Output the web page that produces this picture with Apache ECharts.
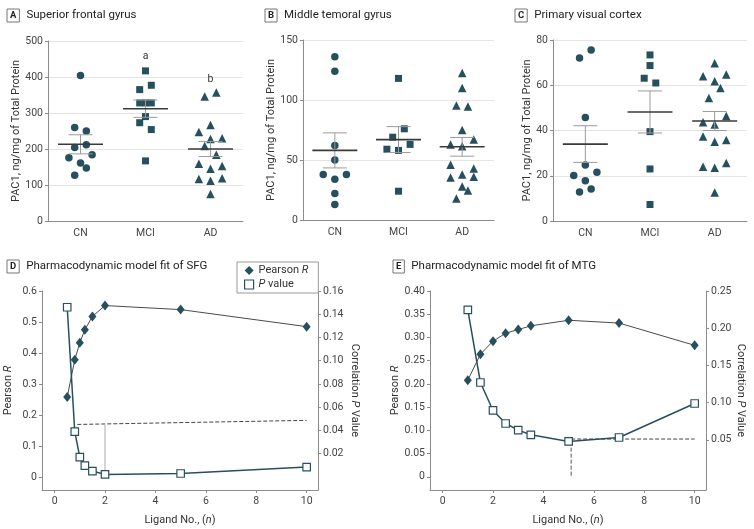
<!DOCTYPE html>
<html>
<head>
<meta charset="utf-8">
<script src="https://cdn.jsdelivr.net/npm/echarts@6/dist/echarts.min.js"></script>
<style>
  html, body { margin: 0; padding: 0; background: #fff; }
  #main { width: 754px; height: 529px; }
</style>
</head>
<body>
<div id="main"></div>
<script>
// groups on the x axis of panels A-C
const groups = ['CN', 'MCI', 'AD'];

// A: Superior frontal gyrus (PAC1, ng/mg)
const sfgCN = [404, 260, 250, 204, 212, 176, 184, 161, 147, 127];
const sfgMCI = [417, 365, 377, 328, 328, 328, 290, 273, 254, 167];
const sfgAD = [346, 357, 267, 247, 228, 230, 208, 184, 159, 145, 153, 117, 112, 119, 75];
const sfgMean = [213, 312, 200];
const sfgSem = [26.5, 24, 21];
const sfgLetters = ['', 'a', 'b'];
const sfgLetterAt = [null, 457, 393];

// B: Middle temporal gyrus
const mtgCN = [136, 124, 62, 50, 38, 38, 34, 22, 13];
const mtgMCI = [118, 76, 69, 63, 59, 58, 24];
const mtgAD = [122.5, 110, 95.5, 94.5, 75, 67, 63, 61.5, 46, 43, 35.5, 38, 36, 28, 24.5, 18];
const mtgMean = [58, 67, 61];
const mtgSem = [14.6, 10.8, 7.8];

// C: Primary visual cortex
const pvcCN = [75.6, 72, 45.8, 24.7, 20.1, 21.6, 17.8, 12.8, 14.1];
const pvcMCI = [73.4, 68.7, 63.1, 61, 39.5, 23, 7.3];
const pvcAD = [69.7, 64, 64.7, 61.8, 58.8, 54.4, 46.4, 43.6, 42.7, 37.4, 35.8, 35, 24, 23.5, 25.6, 12.6];
const pvcMean = [34, 48.2, 44.2];
const pvcSem = [8.1, 9.3, 4.2];

// swarm column of every dot (-2..2)
const sfgCNcol = [0, -1, 1, -1, 1, -2, 2, 0, 1, -1];
const sfgMCIcol = [0, -1, 1, -1, 0, 1, 0, -1, 1, 0];
const sfgADcol = [-1, 1, 0, -2, 0, 2, -1, 1, -2, 0, 2, -2, 0, 2, 0];
const mtgCNcol = [0, 0, 0, 0, -2, 2, 0, 0, 0];
const mtgMCIcol = [0, 1, -1, 2, -2, 0, 0];
const mtgADcol = [0, 0, -1, 1, 0, 2, -2, 0, -2, 2, -2, 0, 2, 0, 1, -1];
const pvcCNcol = [1, -1, 0, 0, -2, 2, 0, -1, 1];
const pvcMCIcol = [0, 0, -1, 1, 0, 0, 0];
const pvcADcol = [0, -2, 2, 0, 1, -1, 2, -2, 0, -2, 2, 0, -2, 0, 2, 0];

// D: pharmacodynamic model fit of SFG
const sfgLigand = [0.5, 0.8, 1, 1.2, 1.5, 2, 5, 10];
const sfgR = [0.258, 0.378, 0.433, 0.475, 0.518, 0.553, 0.540, 0.485];
const sfgP = [0.146, 0.039, 0.017, 0.0097, 0.0051, 0.0022, 0.003, 0.0085];
const sfgCutoff = [[0.9, 0.0452], [10, 0.0487]];
const sfgDrop = [[2, 0.0447], [2, 0.0045]];

// E: pharmacodynamic model fit of MTG
const mtgLigand = [1, 1.5, 2, 2.5, 3, 3.5, 5, 7, 10];
const mtgR = [0.208, 0.264, 0.292, 0.309, 0.317, 0.325, 0.337, 0.331, 0.283];
const mtgP = [0.2245, 0.127, 0.0894, 0.0719, 0.063, 0.0567, 0.0478, 0.0531, 0.0988];
const mtgCutoff = [[5.1, 0.051], [10, 0.051]];
const mtgDrop = [[5.1, 0.0475], [5.1, 0]];

// tick labels
const ligandTicks = [0, 2, 4, 6, 8, 10];
const sfgRTicks = [0, 0.1, 0.2, 0.3, 0.4, 0.5, 0.6];
const sfgPTicks = [0.02, 0.04, 0.06, 0.08, 0.10, 0.12, 0.14, 0.16];
const mtgRTicks = [0, 0.05, 0.10, 0.15, 0.20, 0.25, 0.30, 0.35, 0.40];
const mtgPTicks = [0.05, 0.10, 0.15, 0.20, 0.25];

const ink = '#27505f';
const gray = '#8c8c8c';
const font = 'Roboto, "Liberation Sans", sans-serif';
const colStep = 5.8;

const chart = echarts.init(document.getElementById('main'));

const grids = [
  {left: 48, top: 41, width: 195, height: 180},
  {left: 303, top: 40, width: 191, height: 180},
  {left: 553, top: 40, width: 194, height: 181},
  {left: 42, top: 291, width: 276, height: 199},
  {left: 430, top: 291, width: 276, height: 199}
];

const labelStyle = {color: '#444', fontSize: 10.5, fontFamily: font};
const nameRich = {
  t: {fontSize: 11, fontFamily: font, color: '#333', lineHeight: 12},
  i: {fontSize: 11, fontFamily: font, color: '#333', fontStyle: 'italic', lineHeight: 12}
};

function catAxis(gi) {
  return {
    type: 'category', gridIndex: gi, data: groups,
    axisLine: {onZero: false, lineStyle: {color: gray}},
    axisTick: {show: false},
    axisLabel: Object.assign({margin: 7}, labelStyle),
    splitLine: {show: false}
  };
}

function pacAxis(gi, max, step, gap) {
  return {
    type: 'value', gridIndex: gi, min: 0, max: max, interval: step,
    name: 'PAC1, ng/mg of Total Protein', nameLocation: 'middle', nameGap: gap, nameRotate: 90,
    nameTextStyle: {fontSize: 11, fontFamily: font, color: '#333'},
    axisLine: {show: true, onZero: false, lineStyle: {color: gray}},
    axisTick: {show: true, length: 3, lineStyle: {color: gray}},
    axisLabel: Object.assign({margin: 5}, labelStyle),
    splitLine: {lineStyle: {color: '#e4e4e4'}}
  };
}

function ligandAxis(gi) {
  return {
    type: 'value', gridIndex: gi, min: -0.5, max: 10.45,
    name: '{t|Ligand No., (}{i|n}{t|)}', nameLocation: 'middle', nameGap: 24,
    nameTextStyle: {rich: nameRich},
    axisLine: {onZero: false, lineStyle: {color: gray}},
    axisTick: {show: true, length: 3, customValues: ligandTicks, lineStyle: {color: gray}},
    axisLabel: Object.assign({margin: 6, customValues: ligandTicks}, labelStyle),
    splitLine: {show: false}
  };
}

function fitAxis(gi, side, min, max, ticks, digits, name, gap) {
  return {
    type: 'value', gridIndex: gi, position: side, min: min, max: max,
    name: name, nameLocation: 'middle', nameGap: gap, nameRotate: side === 'left' ? 90 : -90,
    nameTextStyle: {rich: nameRich},
    axisLine: {show: true, onZero: false, lineStyle: {color: gray}},
    axisTick: {show: true, length: 3, customValues: ticks, lineStyle: {color: gray}},
    axisLabel: Object.assign({
      margin: 5, customValues: ticks,
      formatter: v => (v === 0 ? '0' : v.toFixed(digits))
    }, labelStyle),
    splitLine: {show: false}
  };
}

function dots(gi, gIdx, values, cols, symbol, size) {
  return {
    type: 'scatter', xAxisIndex: gi, yAxisIndex: gi, symbol: symbol, symbolSize: size,
    itemStyle: {color: ink, opacity: 1},
    data: values.map((v, k) => ({value: [gIdx, v], symbolOffset: [cols[k] * colStep, 0]})),
    z: 3
  };
}

function meanSem(gi, mean, sem) {
  return {
    type: 'custom', xAxisIndex: gi, yAxisIndex: gi, z: 4, silent: true,
    data: mean.map((m, i) => [i, m, sem[i]]),
    renderItem: (params, api) => {
      const c = api.coord([api.value(0), api.value(1)]);
      const hi = api.coord([api.value(0), api.value(1) + api.value(2)]);
      const lo = api.coord([api.value(0), api.value(1) - api.value(2)]);
      const thin = {stroke: '#9b9b9b', lineWidth: 1};
      return {type: 'group', children: [
        {type: 'line', shape: {x1: c[0], y1: hi[1], x2: c[0], y2: lo[1]}, style: thin},
        {type: 'line', shape: {x1: c[0] - 12, y1: hi[1], x2: c[0] + 12, y2: hi[1]}, style: thin},
        {type: 'line', shape: {x1: c[0] - 12, y1: lo[1], x2: c[0] + 12, y2: lo[1]}, style: thin},
        {type: 'line', shape: {x1: c[0] - 22.5, y1: c[1], x2: c[0] + 22.5, y2: c[1]},
          style: {stroke: '#3a3a3a', lineWidth: 1.6}}
      ]};
    }
  };
}

function fitLines(gi, rAxis, pAxis, ligand, r, p, cutoff, drop, dropDashed) {
  return [
    {
      name: 'Pearson R', type: 'line', xAxisIndex: gi, yAxisIndex: rAxis,
      data: ligand.map((x, i) => [x, r[i]]),
      symbol: 'diamond', symbolSize: [8, 10], showSymbol: true,
      lineStyle: {color: '#4a4a4a', width: 1},
      itemStyle: {color: ink}, z: 4
    },
    {
      name: 'P value', type: 'line', xAxisIndex: gi, yAxisIndex: pAxis,
      data: ligand.map((x, i) => [x, p[i]]),
      symbol: 'rect', symbolSize: 7.5,
      lineStyle: {color: ink, width: 1.5},
      itemStyle: {color: '#fff', borderColor: ink, borderWidth: 1.2}, z: 5
    },
    {
      type: 'line', xAxisIndex: gi, yAxisIndex: pAxis, data: cutoff, symbol: 'none', silent: true,
      lineStyle: {color: '#444', width: 1, type: 'dashed'}, z: 2
    },
    {
      type: 'line', xAxisIndex: gi, yAxisIndex: pAxis, data: drop, symbol: 'none', silent: true,
      lineStyle: dropDashed ? {color: '#555', width: 1, type: 'dashed'} : {color: '#aaa', width: 1},
      z: 2
    }
  ];
}

function panelTitle(letter, text, left, top) {
  return {
    text: '{box|' + letter + '}{t|' + text + '}', left: left, top: top, padding: 0,
    textStyle: {fontWeight: 'normal', rich: {
      box: {fontSize: 9.5, fontWeight: 'bold', fontFamily: font, color: '#222',
        borderColor: '#777', borderWidth: 1, padding: [2, 3, 1, 3]},
      t: {fontSize: 11.5, fontWeight: 'normal', fontFamily: font, color: '#222', padding: [0, 0, 0, 7]}
    }}
  };
}

const sfgDots = dots(0, 1, sfgMCI, sfgMCIcol, 'rect', 7);
sfgDots.markPoint = {
  symbol: 'circle', symbolSize: 0, silent: true,
  label: {show: true, position: 'inside', color: '#333', fontSize: 10.5, fontFamily: font,
    formatter: p => p.name},
  data: sfgLetters.map((t, i) => ({name: t, coord: [i, sfgLetterAt[i]]})).filter(d => d.name)
};

chart.setOption({
  animation: false,
  textStyle: {fontFamily: font},
  title: [
    panelTitle('A', 'Superior frontal gyrus', 7, 9),
    panelTitle('B', 'Middle temoral gyrus', 265, 9),
    panelTitle('C', 'Primary visual cortex', 515, 9),
    panelTitle('D', 'Pharmacodynamic model fit of SFG', 7, 260),
    panelTitle('E', 'Pharmacodynamic model fit of MTG', 393, 260)
  ],
  legend: {
    left: 237, top: 262, orient: 'vertical', itemWidth: 9, itemHeight: 9, itemGap: 3,
    padding: [3, 10, 3, 7], borderColor: '#999', borderWidth: 1,
    data: [
      {name: 'Pearson R', icon: 'diamond'},
      {name: 'P value', icon: 'rect', itemStyle: {color: '#fff', borderColor: ink, borderWidth: 1.2}}
    ],
    formatter: n => (n === 'Pearson R' ? '{t|Pearson }{i|R}' : '{i|P}{t| value}'),
    textStyle: {rich: nameRich},
    selectedMode: false
  },
  grid: grids,
  xAxis: [catAxis(0), catAxis(1), catAxis(2), ligandAxis(3), ligandAxis(4)],
  yAxis: [
    pacAxis(0, 500, 100, 26),
    pacAxis(1, 150, 50, 25),
    pacAxis(2, 80, 20, 19),
    fitAxis(3, 'left', -0.042, 0.6, sfgRTicks, 1, '{t|Pearson }{i|R}', 28),
    fitAxis(3, 'right', -0.0112, 0.16, sfgPTicks, 2, '{t|Correlation }{i|P}{t| Value}', 31),
    fitAxis(4, 'left', -0.0284, 0.4, mtgRTicks, 2, '{t|Pearson }{i|R}', 28),
    fitAxis(4, 'right', -0.0175, 0.25, mtgPTicks, 2, '{t|Correlation }{i|P}{t| Value}', 26)
  ],
  series: [
    dots(0, 0, sfgCN, sfgCNcol, 'circle', 7.5),
    sfgDots,
    dots(0, 2, sfgAD, sfgADcol, 'triangle', 8.5),
    meanSem(0, sfgMean, sfgSem),
    dots(1, 0, mtgCN, mtgCNcol, 'circle', 7.5),
    dots(1, 1, mtgMCI, mtgMCIcol, 'rect', 7),
    dots(1, 2, mtgAD, mtgADcol, 'triangle', 8.5),
    meanSem(1, mtgMean, mtgSem),
    dots(2, 0, pvcCN, pvcCNcol, 'circle', 7.5),
    dots(2, 1, pvcMCI, pvcMCIcol, 'rect', 7),
    dots(2, 2, pvcAD, pvcADcol, 'triangle', 8.5),
    meanSem(2, pvcMean, pvcSem)
  ].concat(
    fitLines(3, 3, 4, sfgLigand, sfgR, sfgP, sfgCutoff, sfgDrop, false),
    fitLines(4, 5, 6, mtgLigand, mtgR, mtgP, mtgCutoff, mtgDrop, true)
  )
});
</script>
</body>
</html>
